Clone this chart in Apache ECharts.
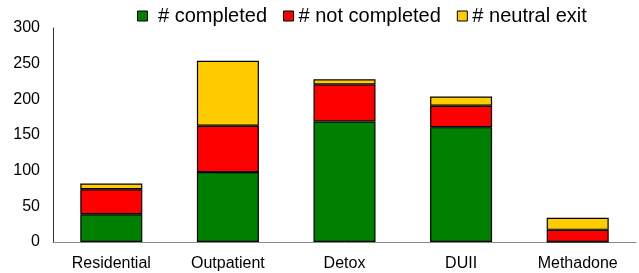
<!DOCTYPE html>
<html>
<head>
<meta charset="utf-8">
<script src="https://cdn.jsdelivr.net/npm/echarts@6/dist/echarts.min.js"></script>
<style>
  html, body { margin: 0; padding: 0; background: #fff; }
  #chart { width: 639px; height: 273px; }
</style>
</head>
<body>
<div id="chart"></div>
<script>
// programme types on the x axis
const categories = ['Residential', 'Outpatient', 'Detox', 'DUII', 'Methadone'];
const seriesNames = ['# completed', '# not completed', '# neutral exit'];
const completed = [39, 98, 169, 161, 0];
const notCompleted = [35, 65, 52, 30, 17];
const neutralExit = [8, 91, 7, 13, 17];
const yTicks = { min: 0, max: 300, interval: 50 };
const colors = ['#008000', '#ff0000', '#ffcc00'];

const chart = echarts.init(document.getElementById('chart'));
const font = 'Liberation Sans, Arial, sans-serif';

const values = [completed, notCompleted, neutralExit];

const option = {
  animation: false,
  color: colors,
  grid: { left: 53, right: 3, top: 28, bottom: 31, containLabel: false },
  legend: {
    left: 132,
    top: 1,
    itemWidth: 10,
    itemHeight: 10,
    itemGap: 16,
    icon: 'rect',
    itemStyle: { borderColor: '#000', borderWidth: 1 },
    // a bit more room after the first marker, like the original
    formatter: function (n) { return n === seriesNames[0] ? ' ' + n : n; },
    textStyle: { fontFamily: font, fontSize: 20, color: '#000' },
    data: seriesNames
  },
  xAxis: {
    type: 'category',
    data: categories,
    axisLine: { lineStyle: { color: '#888', width: 1 } },
    axisTick: { show: false },
    axisLabel: { fontFamily: font, fontSize: 16, color: '#000', margin: 14 }
  },
  yAxis: {
    type: 'value',
    min: yTicks.min,
    max: yTicks.max,
    interval: yTicks.interval,
    axisLine: { show: true, lineStyle: { color: '#333', width: 1 } },
    axisTick: { show: false },
    splitLine: { show: false },
    axisLabel: { fontFamily: font, fontSize: 16, color: '#000', margin: 13 }
  },
  series: seriesNames.map(function (name, i) {
    return {
      name: name,
      type: 'bar',
      stack: 'total',
      barWidth: 62,
      itemStyle: { color: colors[i], borderColor: '#000', borderWidth: 1.2 },
      data: values[i]
    };
  })
};

chart.setOption(option);
</script>
</body>
</html>
